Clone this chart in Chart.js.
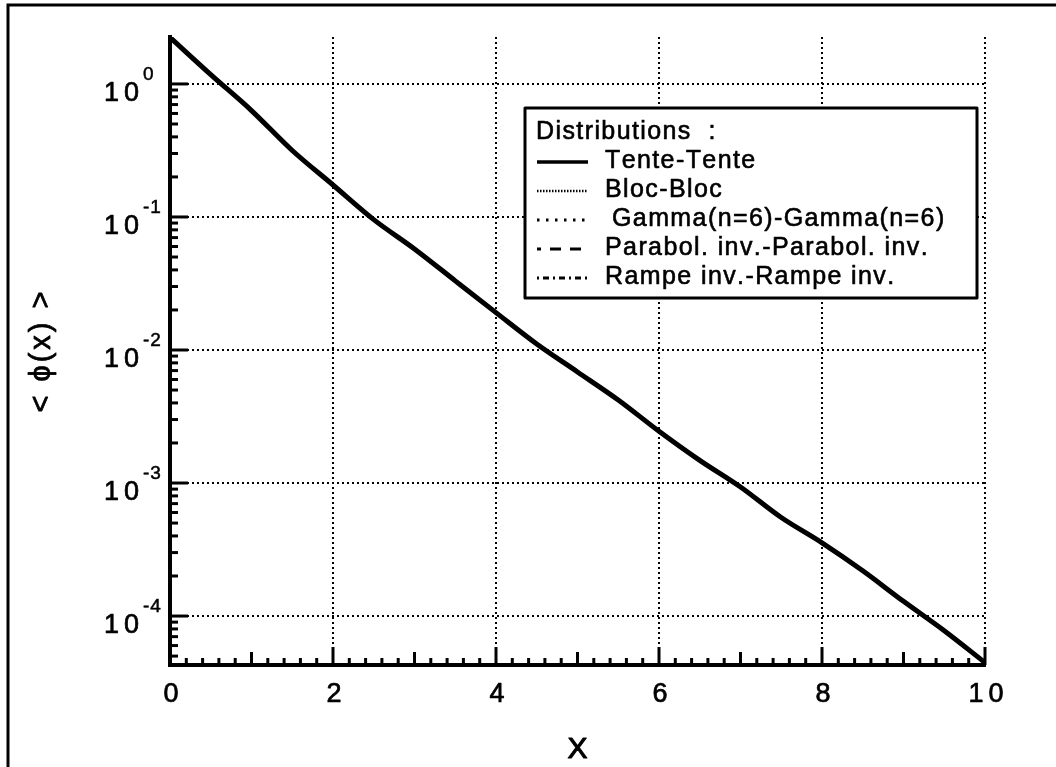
<!DOCTYPE html>
<html>
<head>
<meta charset="utf-8">
<title>&lt; ϕ(x) &gt;</title>
<script src="https://cdn.jsdelivr.net/npm/chart.js@4.4.1/dist/chart.umd.min.js"></script>
<style>
  html, body { margin: 0; padding: 0; background: #fff; }
  #chart { display: block; }
</style>
</head>
<body>
<canvas id="chart" width="1056" height="767"></canvas>
<script>
// mean profile <phi(x)> for each pair of distributions
var xValues = [0, 0.5, 1, 1.5, 2, 2.5, 3, 3.5, 4, 4.5, 5, 5.5, 6, 6.5, 7, 7.5, 8, 8.5, 9, 9.5, 10];

var phiTente   = [2.239, 1.175, 0.631, 0.316, 0.174, 0.0955, 0.0575, 0.0331, 0.0191, 0.01109, 0.00684, 0.00421, 0.00245, 0.00148, 0.000933, 0.000550, 0.000355, 0.000219, 0.000129, 0.0000776, 0.0000447];
var phiBloc    = [2.239, 1.175, 0.631, 0.316, 0.174, 0.0955, 0.0575, 0.0331, 0.0191, 0.01109, 0.00684, 0.00421, 0.00245, 0.00148, 0.000933, 0.000550, 0.000355, 0.000219, 0.000129, 0.0000776, 0.0000447];
var phiGamma   = [2.239, 1.175, 0.631, 0.316, 0.174, 0.0955, 0.0575, 0.0331, 0.0191, 0.01109, 0.00684, 0.00421, 0.00245, 0.00148, 0.000933, 0.000550, 0.000355, 0.000219, 0.000129, 0.0000776, 0.0000447];
var phiParabol = [2.239, 1.175, 0.631, 0.316, 0.174, 0.0955, 0.0575, 0.0331, 0.0191, 0.01109, 0.00684, 0.00421, 0.00245, 0.00148, 0.000933, 0.000550, 0.000355, 0.000219, 0.000129, 0.0000776, 0.0000447];
var phiRampe   = [2.239, 1.175, 0.631, 0.316, 0.174, 0.0955, 0.0575, 0.0331, 0.0191, 0.01109, 0.00684, 0.00421, 0.00245, 0.00148, 0.000933, 0.000550, 0.000355, 0.000219, 0.000129, 0.0000776, 0.0000447];

var seriesNames = ['Tente-Tente', 'Bloc-Bloc', 'Gamma(n=6)-Gamma(n=6)', 'Parabol. inv.-Parabol. inv.', 'Rampe inv.-Rampe inv.'];
var xTickLabels = ['0', '2', '4', '6', '8', '10'];
var yTickExponents = ['0', '-1', '-2', '-3', '-4'];

var Y_MIN = 4.285e-5;
var Y_MAX = 2.254;
var FONT = '"Liberation Sans", Arial, Helvetica, sans-serif';

function toPoints(ys) {
    return xValues.map(function (x, i) { return { x: x, y: ys[i] }; });
}

var lineStyles = [
    { width: 5, dash: [], offset: 0 },
    { width: 2.5, dash: [1.5, 1.5], offset: 0 },
    { width: 3, dash: [2.5, 6.5], offset: 0 },
    { width: 3, dash: [11, 9], offset: 7 },
    { width: 3, dash: [2, 4, 6, 4], offset: 0 }
];

var datasets = [phiTente, phiBloc, phiGamma, phiParabol, phiRampe].map(function (ys, i) {
    return {
        label: seriesNames[i],
        data: toPoints(ys),
        borderColor: '#000',
        borderWidth: i === 0 ? 5 : 3,
        borderDash: lineStyles[i].dash,
        borderDashOffset: lineStyles[i].offset,
        fill: false,
        pointRadius: 0,
        cubicInterpolationMode: 'monotone'
    };
});

// text drawn one glyph at a time so the wide tracking looks right,
// with a thin stroke to give the heavy printed look
function spacedWidth(ctx, text, sp) {
    var w = 0;
    for (var i = 0; i < text.length; i++) w += ctx.measureText(text[i]).width;
    return w + sp * (text.length - 1);
}
function drawSpaced(ctx, text, x, y, sp, align, weight) {
    var w = spacedWidth(ctx, text, sp);
    if (align === 'center') x -= w / 2;
    else if (align === 'right') x -= w;
    ctx.textAlign = 'left';
    ctx.lineWidth = weight || 0.7;
    ctx.lineJoin = 'round';
    for (var i = 0; i < text.length; i++) {
        ctx.fillText(text[i], x, y);
        ctx.strokeText(text[i], x, y);
        x += ctx.measureText(text[i]).width + sp;
    }
}

var plotExtras = {
    id: 'plotExtras',
    beforeDraw: function (chart) {
        var ctx = chart.ctx;
        ctx.save();
        ctx.fillStyle = '#fff';
        ctx.fillRect(0, 0, chart.width, chart.height);
        // page frame, top and left
        ctx.strokeStyle = '#000';
        ctx.lineWidth = 3;
        ctx.beginPath();
        ctx.moveTo(8, chart.height);
        ctx.lineTo(8, 5);
        ctx.lineTo(chart.width, 5);
        ctx.stroke();
        ctx.restore();
    },
    afterDatasetsDraw: function (chart) {
        var ctx = chart.ctx;
        var xs = chart.scales.x, ys = chart.scales.y;
        var area = chart.chartArea;
        ctx.save();
        ctx.strokeStyle = '#000';
        ctx.fillStyle = '#000';
        ctx.lineWidth = 3;

        // log minor/major ticks on the left axis, pointing inwards
        for (var e = -5; e <= 0; e++) {
            for (var m = 1; m <= 9; m++) {
                var v = m * Math.pow(10, e);
                if (v < Y_MIN || v > 1.0001) continue;
                var py = ys.getPixelForValue(v);
                var len = m === 1 ? 18 : 8;
                ctx.beginPath();
                ctx.moveTo(area.left, py);
                ctx.lineTo(area.left + len, py);
                ctx.stroke();
            }
        }
        // ticks every 0.2 along x
        for (var k = 0; k <= 50; k++) {
            var px = xs.getPixelForValue(k * 0.2);
            var tl = k % 10 === 0 ? 18 : (k % 5 === 0 ? 13 : 7);
            ctx.beginPath();
            ctx.moveTo(px, area.bottom);
            ctx.lineTo(px, area.bottom - tl);
            ctx.stroke();
        }

        // tick labels
        ctx.textBaseline = 'alphabetic';
        ctx.font = '27px ' + FONT;
        xTickLabels.forEach(function (lab) {
            drawSpaced(ctx, lab, xs.getPixelForValue(Number(lab)) + 1, 702, 5, 'center');
        });
        yTickExponents.forEach(function (ex) {
            var py = ys.getPixelForValue(Math.pow(10, Number(ex)));
            ctx.font = '27px ' + FONT;
            drawSpaced(ctx, '10', 104, py + 17, 5, 'left');
            ctx.font = '19px ' + FONT;
            drawSpaced(ctx, ex, 143, py - 4, 1, 'left', 0.5);
        });

        // axis titles
        ctx.font = '30px ' + FONT;
        drawSpaced(ctx, 'X', (area.left + area.right) / 2, 758, 0, 'center', 1.2);
        ctx.save();
        ctx.translate(50, 352);
        ctx.rotate(-Math.PI / 2);
        ctx.font = '29px ' + FONT;
        drawSpaced(ctx, '< ϕ(x) >', 0, 0, 3, 'center', 0.8);
        ctx.restore();

        // legend box
        var bx = 525, by = 108, bw = 452, bh = 190;
        ctx.fillStyle = '#fff';
        ctx.fillRect(bx, by, bw, bh);
        ctx.lineWidth = 3;
        ctx.strokeRect(bx, by, bw, bh);
        ctx.fillStyle = '#000';
        ctx.font = '25px ' + FONT;
        drawSpaced(ctx, 'Distributions  :', 536, 139, 1.4, 'left', 0.6);
        chart.data.datasets.forEach(function (ds, i) {
            var base = 139 + 29 * (i + 1);
            var st = lineStyles[i];
            ctx.save();
            ctx.lineWidth = i === 0 ? 3.5 : st.width;
            ctx.setLineDash(st.dash);
            ctx.lineDashOffset = st.offset;
            ctx.beginPath();
            ctx.moveTo(537, base - 6);
            ctx.lineTo(588, base - 6);
            ctx.stroke();
            ctx.restore();
            drawSpaced(ctx, ds.label, i === 2 ? 612 : 605, base, 1.4, 'left', 0.6);
        });
        ctx.restore();
    }
};

new Chart(document.getElementById('chart').getContext('2d'), {
    type: 'line',
    data: { datasets: datasets },
    options: {
        responsive: false,
        animation: false,
        layout: { padding: { left: 170, right: 71, top: 37, bottom: 102 } },
        plugins: { legend: { display: false }, tooltip: { enabled: false } },
        scales: {
            x: {
                type: 'linear',
                min: 0,
                max: 10,
                ticks: { display: false, stepSize: 2 },
                grid: { color: '#000', lineWidth: 2, drawTicks: false },
                border: { display: true, color: '#000', width: 4, dash: [2, 3] }
            },
            y: {
                type: 'logarithmic',
                min: Y_MIN,
                max: Y_MAX,
                afterBuildTicks: function (scale) {
                    scale.ticks = scale.ticks.filter(function (t) {
                        var l = Math.log10(t.value);
                        return Math.abs(l - Math.round(l)) < 1e-9;
                    });
                },
                ticks: { display: false },
                grid: { color: '#000', lineWidth: 2, drawTicks: false },
                border: { display: true, color: '#000', width: 4, dash: [2, 3] }
            }
        }
    },
    plugins: [plotExtras]
});
</script>
</body>
</html>
